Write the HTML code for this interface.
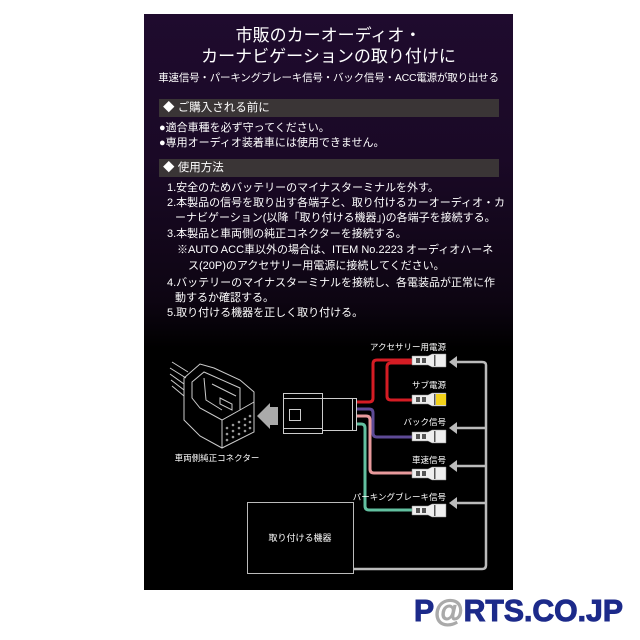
<!DOCTYPE html>
<html><head><meta charset="utf-8"><style>
html,body{margin:0;padding:0;background:#fff;width:640px;height:640px;overflow:hidden}
.p{position:absolute;left:144px;top:14px;width:369px;height:576px;background:linear-gradient(#1f0b2e 0%,#1a0926 25%,#0d0512 50%,#000 58%,#000 100%)}
.t{position:absolute;left:0;width:100%;text-align:center;color:#fff;font-family:"Liberation Sans","Noto Sans CJK JP",sans-serif;white-space:nowrap}
.h{position:absolute;left:15px;width:340px;height:18px;background:#3a3536;color:#fff;font-family:"Liberation Sans","Noto Sans CJK JP",sans-serif;font-size:11.5px;line-height:18px;padding-left:4px;box-sizing:border-box}
.l{position:absolute;color:#fff;font-family:"Liberation Sans","Noto Sans CJK JP",sans-serif;font-size:11px;white-space:nowrap;line-height:14px}
svg{position:absolute;left:0;top:0}
</style></head><body>
<div class="p">
<div class="t" style="top:7px;font-size:17px">市販のカーオーディオ・</div>
<div class="t" style="top:28px;font-size:17px">カーナビゲーションの取り付けに</div>
<div class="t" style="top:56px;font-size:10.5px;letter-spacing:-0.2px">車速信号・パーキングブレーキ信号・バック信号・ACC電源が取り出せる</div>
<div class="h" style="top:85px">◆ ご購入される前に</div>
<div class="l" style="left:15px;top:107px">●適合車種を必ず守ってください。</div>
<div class="l" style="left:15px;top:122px">●専用オーディオ装着車には使用できません。</div>
<div class="h" style="top:145px">◆ 使用方法</div>
<div class="l" style="left:23px;top:167px">1.安全のためバッテリーのマイナスターミナルを外す。</div>
<div class="l" style="left:23px;top:182px">2.本製品の信号を取り出す各端子と、取り付けるカーオーディオ・カ</div>
<div class="l" style="left:31px;top:197px">ーナビゲーション(以降「取り付ける機器」)の各端子を接続する。</div>
<div class="l" style="left:23px;top:213px">3.本製品と車両側の純正コネクターを接続する。</div>
<div class="l" style="left:33px;top:229px">※AUTO ACC車以外の場合は、ITEM No.2223 オーディオハーネ</div>
<div class="l" style="left:44px;top:245px">ス(20P)のアクセサリー用電源に接続してください。</div>
<div class="l" style="left:23px;top:262px">4.バッテリーのマイナスターミナルを接続し、各電装品が正常に作</div>
<div class="l" style="left:31px;top:277px">動するか確認する。</div>
<div class="l" style="left:23px;top:292px">5.取り付ける機器を正しく取り付ける。</div>
</div>
<svg width="640" height="640" font-family="Liberation Sans,Noto Sans CJK JP,sans-serif">
<g fill="none" stroke="#ccc" stroke-width="1">
<path d="M172 362 L188 372 M170 368 L186 378 M170 374 L184 384 M171 380 L184 390 M172 386 L184 396"/>
<path d="M184 378 L200 364 L214 368 L240 380 L254 392 L254 432 L222 448 L200 436 L184 420 Z"/>
<path d="M192 382 L204 372 L240 388 L240 410 L222 420 L200 408 L192 398 Z"/>
<path d="M204 378 L206 400 L222 410 M212 384 L236 396 M220 398 L232 404 L232 410 L220 404 Z"/>
<path d="M222 420 L222 448 M240 410 L254 402"/>
</g>
<g fill="#999">
<circle cx="227" cy="428" r="1.3"/><circle cx="233" cy="425" r="1.3"/><circle cx="239" cy="422" r="1.3"/><circle cx="245" cy="419" r="1.3"/><circle cx="250" cy="416" r="1.3"/>
<circle cx="227" cy="434" r="1.3"/><circle cx="233" cy="431" r="1.3"/><circle cx="239" cy="428" r="1.3"/><circle cx="245" cy="425" r="1.3"/><circle cx="250" cy="422" r="1.3"/>
<circle cx="227" cy="440" r="1.3"/><circle cx="233" cy="437" r="1.3"/><circle cx="239" cy="434" r="1.3"/><circle cx="245" cy="431" r="1.3"/><circle cx="250" cy="428" r="1.3"/>
</g>
<text x="217" y="461" fill="#fff" font-size="8.5" text-anchor="middle">車両側純正コネクター</text>
<path d="M257 416 L270 403 L270 407 L278 407 L278 425 L270 425 L270 429 Z" fill="#aaa"/>
<g fill="#000" stroke="#ccc" stroke-width="1">
<rect x="283.5" y="393.5" width="39" height="40"/>
<line x1="283.5" y1="398.5" x2="322.5" y2="398.5"/><line x1="283.5" y1="428.5" x2="322.5" y2="428.5"/>
<rect x="289.5" y="409.5" width="11" height="11"/>
<rect x="322.5" y="398.5" width="30" height="32"/>
<rect x="352.5" y="398.5" width="4" height="32"/>
</g>
<g fill="none" stroke-width="3" stroke-linejoin="round">
<path d="M357 402 H369 Q373 402 373 398 V364 Q373 360 377 360 H412" stroke="#d51c24"/>
<path d="M412 363 H391 Q387 363 387 367 V396 Q387 400 391 400 H412" stroke="#d51c24"/>
<path d="M357 409 H369 Q373 409 373 413 V433 Q373 437 377 437 H412" stroke="#5e4a96"/>
<path d="M357 416 H366 Q370 416 370 420 V469 Q370 473 374 473 H412" stroke="#e89a9c"/>
<path d="M357 424 H361 Q365 424 365 428 V506 Q365 510 369 510 H412" stroke="#62c0a0"/>
</g>
<g id="term">
<path d="M412 356 L428 356 L432 354 L446 354 L446 367 L432 367 L428 365 L412 365 Z" fill="#eee" stroke="#888" stroke-width="0.5"/>
<rect x="416" y="358" width="4" height="5" fill="#555"/><rect x="422" y="358" width="4" height="5" fill="#555"/><rect x="434" y="355" width="1.5" height="11" fill="#555"/>
</g>
<use href="#term" transform="translate(0,39)"/>
<rect x="436" y="394" width="10" height="11" fill="#f3d21a"/>
<use href="#term" transform="translate(0,76)"/>
<use href="#term" transform="translate(0,113)"/>
<use href="#term" transform="translate(0,150)"/>
<g fill="#fff" font-size="8.5" text-anchor="end">
<text x="446" y="350">アクセサリー用電源</text>
<text x="446" y="388">サブ電源</text>
<text x="446" y="425">バック信号</text>
<text x="446" y="463">車速信号</text>
<text x="446" y="500">パーキングブレーキ信号</text>
</g>
<g fill="none" stroke="#bbb" stroke-width="2.5">
<path d="M354 569 H482 Q486 569 486 565 V365 Q486 362 482 362 H456"/>
<path d="M486 428 H456 M486 466 H456 M486 503 H456"/>
</g>
<g fill="#bbb">
<path d="M449 362 L457 356 L457 368 Z"/><path d="M449 428 L457 422 L457 434 Z"/><path d="M449 466 L457 460 L457 472 Z"/><path d="M449 503 L457 497 L457 509 Z"/>
</g>
<rect x="247.5" y="502.5" width="106" height="71" fill="#000" stroke="#bbb"/>
<text x="300" y="541" fill="#fff" font-size="9" text-anchor="middle">取り付ける機器</text>
<text x="414" y="621" font-size="31" font-weight="bold" fill="#1c2a8a" stroke="#1c2a8a" stroke-width="1" font-family="Liberation Sans,sans-serif" textLength="209" lengthAdjust="spacingAndGlyphs">P<tspan fill="#aaa" stroke="#aaa">@</tspan>RTS.CO.JP</text>
</svg>
</body></html>
